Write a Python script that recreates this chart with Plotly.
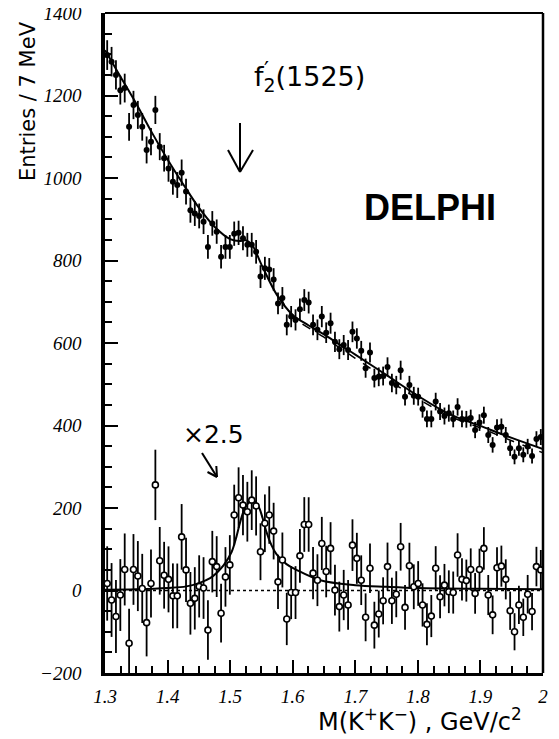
import numpy as np
import plotly.graph_objects as go

# ---------------- data ----------------
bin_width = 0.007          # GeV, 7 MeV bins
mass_start = 1.3035        # centre of first bin

upper_counts = [
    1298, 1282, 1250, 1213, 1218, 1124, 1177, 1153, 1124, 1068,
    1088, 1165, 1076, 1048, 1023, 991, 983, 1013, 967, 922,
    914, 908, 894, 833, 890, 870, 809, 833, 833, 865,
    867, 854, 838, 838, 821, 761, 781, 778, 754, 696,
    709, 644, 664, 656, 682, 704, 698, 644, 632, 664,
    625, 648, 603, 585, 595, 583, 627, 611, 581, 539,
    577, 515, 518, 520, 542, 503, 498, 534, 470, 498,
    472, 470, 440, 416, 416, 458, 434, 423, 430, 416,
    445, 416, 415, 418, 389, 407, 425, 377, 353, 395,
    397, 377, 345, 324, 345, 329, 349, 326, 367, 372,
]

lower_resid = [
    17, -23, -63, -11, 51, -128, 51, 35, 5, -78,
    17, 256, 72, 37, 27, -13, -13, 130, 50, -31,
    -19, 10, 6, -96, 70, 58, -55, 33, 62, 183,
    225, 207, 191, 219, 205, 94, 163, 183, 144, 21,
    74, -69, -5, -5, 84, 160, 160, 42, 25, 114,
    46, 102, 1, -39, -11, -35, 110, 78, 25, -65,
    54, -84, -57, -25, 58, -25, -9, 106, -41, 60,
    9, 17, -35, -82, -62, 54, -15, 13, -3, -5,
    86, 27, 24, 51, -7, 51, 102, -11, -59, 55,
    59, 27, -49, -100, -35, -65, -9, -51, 58, 50,
]

# full fit (solid) on the upper spectrum
fit_x = [1.300, 1.325, 1.350, 1.375, 1.400, 1.425, 1.450, 1.475, 1.500, 1.515,
         1.525, 1.535, 1.550, 1.575, 1.600, 1.625, 1.650, 1.675, 1.700, 1.750,
         1.800, 1.850, 1.900, 1.950, 2.000]
fit_upper = [1310, 1245, 1180, 1110, 1045, 985, 928, 882, 852, 847,
             849, 838, 790, 716, 668, 643, 621, 596, 572, 522,
             472, 428, 399, 370, 343]

# dashed curve on the upper spectrum
dash_x = [1.580, 1.600, 1.650, 1.700, 1.750, 1.800, 1.850, 1.900, 1.950, 2.000]
dash_upper = [712, 664, 614, 563, 513, 465, 423, 394, 363, 334]

# signal curve on the x2.5 residuals
sig_x = [1.300, 1.350, 1.400, 1.430, 1.450, 1.468, 1.480, 1.490, 1.5025, 1.510,
         1.515, 1.521, 1.528, 1.536, 1.545, 1.552, 1.558, 1.566, 1.574, 1.590,
         1.606, 1.644, 1.700, 1.750, 1.800, 1.900, 2.000]
sig_fit = [2, 3, 6, 10, 18, 30, 45, 62, 94, 130,
           160, 190, 210, 219, 205, 175, 142, 110, 88, 64,
           50, 25, 13, 9, 6, 4, 3]

x_ticks = [1.3, 1.4, 1.5, 1.6, 1.7, 1.8, 1.9, 2.0]
x_ticktext = ["1.3", "1.4", "1.5", "1.6", "1.7", "1.8", "1.9", "2"]
y_ticks = [-200, 0, 200, 400, 600, 800, 1000, 1200, 1400]

# ---------------------------------------------------------------
mass = [round(mass_start + bin_width * i, 4) for i in range(len(upper_counts))]
upper_err = np.sqrt(np.array(upper_counts, dtype=float))
lower_err = 2.5 * np.sqrt(np.array(upper_counts, dtype=float))

PAGE = 8                      # browser body margin
W, H = 559 - PAGE, 739 - PAGE
L_ABS, T_ABS = 105, 13        # plot-area corner in window pixels
PW, PH = 438, 660
L, T = L_ABS - PAGE, T_ABS - PAGE
R, B = W - L - PW, H - T - PH
XMIN, XMAX, YMIN, YMAX = 1.3, 2.0, -200, 1400


def dx(xp):  # window pixel -> data x
    return XMIN + (xp - L_ABS) / PW * (XMAX - XMIN)


def dy(yp):  # window pixel -> data y
    return YMAX - (yp - T_ABS) / PH * (YMAX - YMIN)


def pxx(xp):
    return (xp - L_ABS) / PW


def pyy(yp):
    return (T_ABS + PH - yp) / PH


fig = go.Figure()

fig.add_trace(go.Scatter(x=fit_x, y=fit_upper, mode="lines", line_shape="spline",
                         line=dict(color="black", width=2), hoverinfo="skip", showlegend=False))
fig.add_trace(go.Scatter(x=dash_x, y=dash_upper, mode="lines", line_shape="spline",
                         line=dict(color="black", width=1.5, dash="dash"), hoverinfo="skip",
                         showlegend=False))
fig.add_trace(go.Scatter(x=[XMIN, XMAX], y=[0, 0], mode="lines",
                         line=dict(color="black", width=1.5, dash="dot"), hoverinfo="skip",
                         showlegend=False))
fig.add_trace(go.Scatter(x=sig_x, y=sig_fit, mode="lines", line_shape="spline",
                         line=dict(color="black", width=2), hoverinfo="skip", showlegend=False))

fig.add_trace(go.Scatter(
    x=mass, y=upper_counts, mode="markers",
    marker=dict(symbol="circle", size=6, color="black"),
    error_y=dict(type="data", array=upper_err, width=0, thickness=1.8, color="black"),
    showlegend=False))
fig.add_trace(go.Scatter(
    x=mass, y=lower_resid, mode="markers",
    marker=dict(symbol="circle", size=6, color="white", line=dict(color="black", width=1.6)),
    error_y=dict(type="data", array=lower_err, width=0, thickness=1.8, color="black"),
    showlegend=False))

tickfont = dict(family="Liberation Serif", size=19, color="black", style="italic")

fig.update_xaxes(range=[XMIN, XMAX], tickvals=x_ticks, ticktext=x_ticktext,
                 ticks="inside", ticklen=13, tickwidth=2, tickcolor="black",
                 minor=dict(ticks="inside", dtick=0.025, ticklen=7, tickwidth=1.5, tickcolor="black"),
                 showline=True, linewidth=3, linecolor="black", mirror=False,
                 showgrid=False, zeroline=False, tickfont=tickfont, ticklabelstandoff=4,
                 ticklabeloverflow="allow")
fig.update_yaxes(range=[YMIN, YMAX], tickvals=y_ticks,
                 ticks="inside", ticklen=13, tickwidth=2, tickcolor="black",
                 minor=dict(ticks="inside", dtick=50, ticklen=7, tickwidth=1.5, tickcolor="black"),
                 showline=True, linewidth=3.5, linecolor="black", mirror=False,
                 showgrid=False, zeroline=False, tickfont=tickfont, ticklabelstandoff=16,
                 ticklabeloverflow="allow")

# top and right frame lines
fig.add_shape(type="line", xref="paper", yref="paper", x0=0, x1=1, y0=1, y1=1,
              line=dict(color="black", width=2))
fig.add_shape(type="line", xref="paper", yref="paper", x0=1, x1=1, y0=0, y1=1,
              line=dict(color="black", width=2.5))

# arrow under f2'(1525)
ax0, ay0, ay1 = 240, 123, 172
fig.add_shape(type="line", x0=dx(ax0), x1=dx(ax0), y0=dy(ay0), y1=dy(ay1),
              line=dict(color="black", width=2))
fig.add_shape(type="line", x0=dx(228), x1=dx(ax0), y0=dy(150), y1=dy(ay1),
              line=dict(color="black", width=2))
fig.add_shape(type="line", x0=dx(253), x1=dx(ax0), y0=dy(150), y1=dy(ay1),
              line=dict(color="black", width=2))

# arrow under x2.5
fig.add_shape(type="line", x0=dx(202), x1=dx(217), y0=dy(453), y1=dy(477),
              line=dict(color="black", width=2))
fig.add_shape(type="line", x0=dx(216.3), x1=dx(217), y0=dy(466), y1=dy(477),
              line=dict(color="black", width=2))
fig.add_shape(type="line", x0=dx(207.5), x1=dx(217), y0=dy(472), y1=dy(477),
              line=dict(color="black", width=2))

sans = "DejaVu Sans"
fig.add_annotation(text="f<sub>2</sub>(1525)", xref="paper", yref="paper",
                   x=pxx(252), y=pyy(78), xanchor="left", yanchor="middle", showarrow=False,
                   font=dict(family=sans, size=27, color="black"))
fig.add_annotation(text="′", xref="paper", yref="paper",
                   x=pxx(266), y=pyy(70), xanchor="center", yanchor="middle", showarrow=False,
                   font=dict(family=sans, size=22, color="black"))
fig.add_annotation(text="DELPHI", xref="paper", yref="paper",
                   x=pxx(430), y=pyy(207), xanchor="center", yanchor="middle", showarrow=False,
                   font=dict(family="Liberation Sans", size=36, color="black", weight="bold"))
fig.add_annotation(text="×2.5", xref="paper", yref="paper",
                   x=pxx(213), y=pyy(434), xanchor="center", yanchor="middle", showarrow=False,
                   font=dict(family=sans, size=25, color="black"))
fig.add_annotation(text="Entries / 7 MeV", xref="paper", yref="paper", textangle=-90,
                   x=pxx(28), y=pyy(19), xanchor="center", yanchor="top", showarrow=False,
                   font=dict(family=sans, size=21, color="black"))
fig.add_annotation(text="M(K<sup>+</sup>K<sup>−</sup>) , GeV/c<sup>2</sup>", xref="paper", yref="paper",
                   x=pxx(420), y=pyy(720), xanchor="center", yanchor="middle", showarrow=False,
                   font=dict(family=sans, size=24, color="black"))

fig.update_layout(width=W, height=H, margin=dict(l=L, r=R, t=T, b=B, autoexpand=False),
                  paper_bgcolor="white", plot_bgcolor="white", showlegend=False)

fig.write_html("out.html")
